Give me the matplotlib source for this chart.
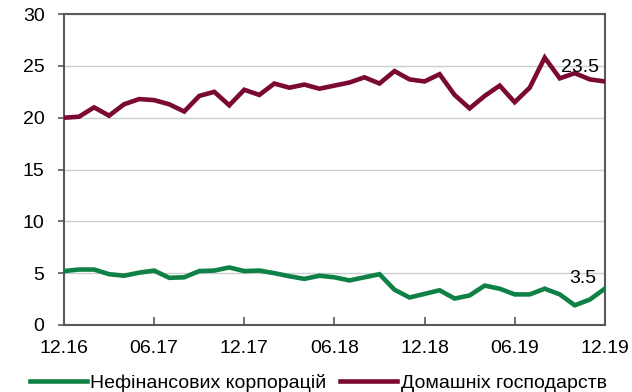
import matplotlib

matplotlib.use("Agg")
import matplotlib.pyplot as plt
import numpy as np

plt.rcParams["font.family"] = ["Liberation Sans", "DejaVu Sans"]

# monthly values, 12.2016 .. 12.2019
households = [
    20.0, 20.1, 21.0, 20.2, 21.3, 21.8, 21.7, 21.3, 20.6, 22.1,
    22.5, 21.2, 22.7, 22.2, 23.3, 22.9, 23.2, 22.8, 23.1, 23.4,
    23.9, 23.3, 24.5, 23.7, 23.5, 24.2, 22.2, 20.9, 22.1, 23.1,
    21.5, 22.9, 25.8, 23.8, 24.3, 23.7, 23.5,
]
corporations = [
    5.2, 5.35, 5.35, 4.9, 4.75, 5.05, 5.25, 4.55, 4.6, 5.2,
    5.25, 5.55, 5.2, 5.25, 5.0, 4.7, 4.45, 4.75, 4.6, 4.3,
    4.6, 4.9, 3.4, 2.65, 3.0, 3.35, 2.55, 2.85, 3.8, 3.5,
    2.95, 2.95, 3.5, 2.95, 1.9, 2.45, 3.5,
]
tick_labels = ["12.16", "06.17", "12.17", "06.18", "12.18", "06.19", "12.19"]
series_names = ["Нефінансових корпорацій", "Домашніх господарств"]

green = "#0F8147"
maroon = "#7A0A33"
spine_color = "#595959"

x = np.arange(len(households))

fig = plt.figure(figsize=(6.32, 3.92), dpi=100)
ax = fig.add_axes([0.1013, 0.171, 0.8557, 0.793])

ax.plot(x, corporations, color=green, lw=3.3, solid_joinstyle="miter",
        label=series_names[0], zorder=3)
ax.plot(x, households, color=maroon, lw=3.3, solid_joinstyle="miter",
        label=series_names[1], zorder=3)

ax.set_xlim(0, len(x) - 1)
ax.set_ylim(0, 30)
ax.set_yticks(range(0, 31, 5))
ax.set_xticks(x[::6])
ax.set_xticklabels(tick_labels)

ax.yaxis.grid(True, color="#C9CDCD", lw=1.0)
ax.set_axisbelow(True)

for side in ax.spines.values():
    side.set_color(spine_color)
    side.set_linewidth(1.5)

ax.tick_params(axis="x", direction="in", length=6, width=1.2,
               color=spine_color, labelsize=14, pad=11)
ax.tick_params(axis="y", direction="out", length=4, width=1.2,
               color=spine_color, labelsize=14, pad=10)

# end-of-series values
ax.annotate(f"{households[-1]:.1f}", (x[-1], households[-1]),
            xytext=(-4, 4), textcoords="offset points",
            fontsize=14, ha="right", va="bottom")
ax.annotate(f"{corporations[-1]:.1f}", (x[-1], corporations[-1]),
            xytext=(-6, 1), textcoords="offset points",
            fontsize=14, ha="right", va="bottom")

fig.legend(loc="lower left", bbox_to_anchor=(0.02, -0.045), ncol=2,
           frameon=False, fontsize=14, handlelength=2.9,
           handletextpad=0.2, columnspacing=0.7)

fig.savefig("out.png", dpi=100)
